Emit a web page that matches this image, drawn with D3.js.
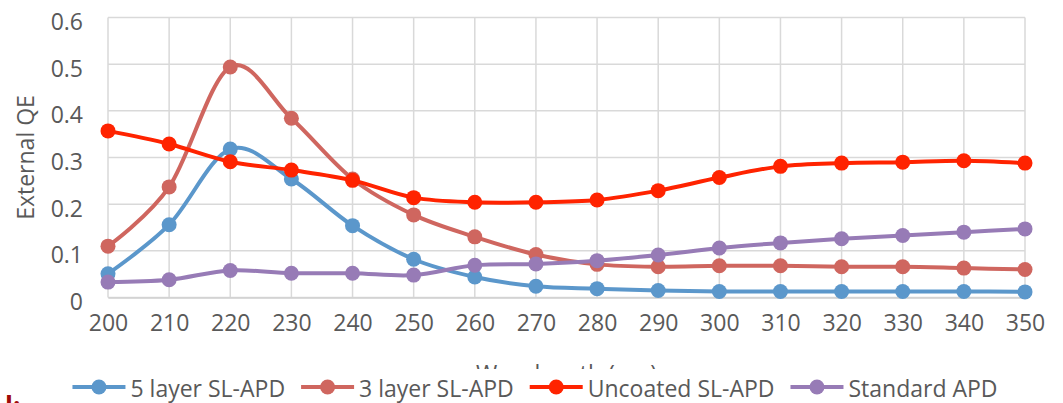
<!DOCTYPE html>
<html>
<head>
<meta charset="utf-8">
<script src="https://cdn.jsdelivr.net/npm/d3@7"></script>
<style>
  html, body { margin: 0; padding: 0; background: #fff; }
  svg { display: block; font-family: "Open Sans", sans-serif; }
</style>
</head>
<body>
<svg id="chart" width="1063" height="403"></svg>
<script>
// Wavelength sweep (nm)
const wavelengths = [200, 210, 220, 230, 240, 250, 260, 270, 280, 290, 300, 310, 320, 330, 340, 350];

// External quantum efficiency per device
const fiveLayer = [0.051, 0.156, 0.318, 0.254, 0.154, 0.082, 0.044, 0.024, 0.019, 0.015, 0.013, 0.013, 0.013, 0.013, 0.013, 0.012];
const threeLayer = [0.110, 0.237, 0.494, 0.384, 0.254, 0.177, 0.130, 0.092, 0.071, 0.066, 0.068, 0.068, 0.066, 0.066, 0.063, 0.060];
const uncoated = [0.357, 0.329, 0.291, 0.273, 0.251, 0.214, 0.204, 0.204, 0.209, 0.229, 0.257, 0.281, 0.288, 0.290, 0.293, 0.288];
const standardApd = [0.033, 0.038, 0.058, 0.052, 0.052, 0.048, 0.069, 0.072, 0.079, 0.091, 0.106, 0.117, 0.126, 0.133, 0.140, 0.147];

const seriesNames = ["5 layer SL-APD", "3 layer SL-APD", "Uncoated SL-APD", "Standard APD"];
const seriesValues = [fiveLayer, threeLayer, uncoated, standardApd];
const seriesColors = ["#5B97CB", "#CF665F", "#FF2300", "#977BB6"];

const yTicks = [0, 0.1, 0.2, 0.3, 0.4, 0.5, 0.6];
const xTitle = "Wavelength (nm)";
const yTitle = "External QE";

const svg = d3.select("#chart");
const textColor = "#595959";
const gridColor = "#D9D9D9";

const plotLeft = 108, plotRight = 1025, plotTop = 17.5, plotBottom = 297.5;

const x = d3.scaleLinear().domain([200, 350]).range([plotLeft, plotRight]);
const y = d3.scaleLinear().domain([0, 0.6]).range([plotBottom, plotTop]);

// Gridlines
const grid = svg.append("g");
grid.selectAll("line.h").data(yTicks).join("line")
  .attr("class", "h")
  .attr("x1", plotLeft).attr("x2", plotRight)
  .attr("y1", d => y(d)).attr("y2", d => y(d))
  .attr("stroke", gridColor).attr("stroke-width", 1.5);
grid.selectAll("line.v").data(wavelengths).join("line")
  .attr("class", "v")
  .attr("x1", d => x(d)).attr("x2", d => x(d))
  .attr("y1", plotTop).attr("y2", plotBottom)
  .attr("stroke", gridColor).attr("stroke-width", 1.5);

// Axes (labels only, Excel style)
const yAxis = d3.axisLeft(y).tickValues(yTicks).tickSize(0).tickPadding(25)
  .tickFormat(d => d === 0 ? "0" : d3.format(".1f")(d));
const gy = svg.append("g").attr("transform", `translate(${plotLeft},0)`).call(yAxis);
gy.select(".domain").remove();
gy.selectAll("text").attr("fill", textColor).attr("font-size", 23)
  .attr("font-family", "Open Sans").attr("dy", "0.52em");

const xAxis = d3.axisBottom(x).tickValues(wavelengths).tickSize(0).tickPadding(25)
  .tickFormat(d3.format("d"));
const gx = svg.append("g").attr("transform", `translate(0,${plotBottom})`).call(xAxis);
gx.select(".domain").attr("stroke", "#D0D0D0").attr("stroke-width", 1.5);
gx.selectAll("text").attr("fill", textColor).attr("font-size", 23)
  .attr("font-family", "Open Sans").attr("dy", "0.38em");

// Axis titles
svg.append("text")
  .attr("transform", `translate(34,${(plotTop + plotBottom) / 2}) rotate(-90)`)
  .attr("text-anchor", "middle")
  .attr("fill", textColor).attr("font-size", 23)
  .text(yTitle);

svg.append("text")
  .attr("x", (plotLeft + plotRight) / 2).attr("y", 382)
  .attr("text-anchor", "middle")
  .attr("fill", textColor).attr("font-size", 23)
  .text(xTitle);

// Series lines and markers
const line = d3.line()
  .x((d, i) => x(wavelengths[i]))
  .y(d => y(d))
  .curve(d3.curveCardinal.tension(0));

const series = svg.append("g");
seriesValues.forEach((vals, k) => {
  const g = series.append("g");
  g.append("path").datum(vals)
    .attr("d", line)
    .attr("fill", "none")
    .attr("stroke", seriesColors[k])
    .attr("stroke-width", 4)
    .attr("stroke-linejoin", "round");
  g.selectAll("circle").data(vals).join("circle")
    .attr("cx", (d, i) => x(wavelengths[i]))
    .attr("cy", d => y(d))
    .attr("r", 7.5)
    .attr("fill", seriesColors[k]);
});

// Legend (white band drawn over the lower part of the axis title)
svg.append("rect")
  .attr("x", 55).attr("y", 369).attr("width", 960).attr("height", 40)
  .attr("fill", "#fff");

const legend = svg.append("g");
const legendY = 387;
const items = seriesNames.map((name, k) => {
  const g = legend.append("g");
  g.append("line").attr("x1", 0).attr("x2", 53).attr("y1", legendY).attr("y2", legendY)
    .attr("stroke", seriesColors[k]).attr("stroke-width", 4);
  g.append("circle").attr("cx", 26.5).attr("cy", legendY).attr("r", 7.5).attr("fill", seriesColors[k]);
  const t = g.append("text").attr("x", 58).attr("y", legendY + 10)
    .attr("fill", textColor).attr("font-size", 23).text(name);
  return { g, w: 58 + t.node().getComputedTextLength() };
});
const gap = 16;
const totalW = d3.sum(items, d => d.w) + gap * (items.length - 1);
let cursor = 535 - totalW / 2;
items.forEach(it => {
  it.g.attr("transform", `translate(${cursor},0)`);
  cursor += it.w + gap;
});

// Caption fragment at the lower-left edge
svg.append("text")
  .attr("x", 5).attr("y", 416)
  .attr("fill", "#A00A0A").attr("font-size", 26).attr("font-weight", "bold")
  .text("l:");
</script>
</body>
</html>
